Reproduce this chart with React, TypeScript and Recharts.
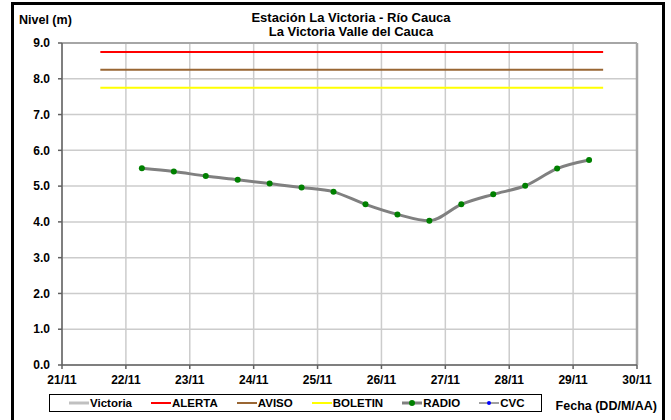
import { LineChart, Line, XAxis, YAxis, CartesianGrid, ReferenceLine } from 'recharts'

// Eje X en días desde el 21/11 (0 = 21/11, 9 = 30/11)
const DAY_TICKS = [0, 1, 2, 3, 4, 5, 6, 7, 8, 9]
const DAY_LABELS = ['21/11', '22/11', '23/11', '24/11', '25/11', '26/11', '27/11', '28/11', '29/11', '30/11']
const LEVEL_TICKS = [0, 1, 2, 3, 4, 5, 6, 7, 8, 9]

// Lecturas RADIO (cada 12 horas)
const RADIO_DAYS = [1.25, 1.75, 2.25, 2.75, 3.25, 3.75, 4.25, 4.75, 5.25, 5.75, 6.25, 6.75, 7.25, 7.75, 8.25]
const RADIO_LEVELS = [5.5, 5.41, 5.28, 5.18, 5.07, 4.96, 4.84, 4.49, 4.21, 4.03, 4.49, 4.77, 5.01, 5.49, 5.73]

// Umbrales
const THRESHOLD_DAYS = [0.6, 8.47]
const ALERTA = 8.75
const AVISO = 8.25
const BOLETIN = 7.75

const FONT = '"Liberation Sans", Arial, sans-serif'

const radioData = RADIO_DAYS.map((x, i) => ({ x, y: RADIO_LEVELS[i] }))
const flat = (level: number) => THRESHOLD_DAYS.map((x) => ({ x, y: level }))

const LEGEND = [
  { name: 'Victoria', colour: '#c0c0c0', width: 3, dot: null },
  { name: 'ALERTA', colour: '#ff0000', width: 2, dot: null },
  { name: 'AVISO', colour: '#996633', width: 2, dot: null },
  { name: 'BOLETIN', colour: '#ffff00', width: 2, dot: null },
  { name: 'RADIO', colour: '#808080', width: 3, dot: '#008000' },
  { name: 'CVC', colour: '#a0a0a0', width: 2, dot: '#0000ff' },
]

function LegendBox() {
  return (
    <div
      style={{
        position: 'absolute',
        left: 49,
        top: 394,
        width: 493,
        height: 18,
        boxSizing: 'border-box',
        border: '1px solid #000',
        display: 'flex',
        alignItems: 'center',
        paddingLeft: 19,
        gap: 19,
        fontFamily: FONT,
        fontWeight: 'bold',
        fontSize: 11.5,
        background: '#fff',
      }}
    >
      {LEGEND.map((l) => (
        <div key={l.name} style={{ display: 'flex', alignItems: 'center' }}>
          <svg width={20} height={8} style={{ marginRight: 1 }}>
            <line x1={0} x2={20} y1={4} y2={4} stroke={l.colour} strokeWidth={l.width} />
            {l.dot && <circle cx={10} cy={4} r={l.name === 'CVC' ? 2 : 3} fill={l.dot} />}
          </svg>
          <span>{l.name}</span>
        </div>
      ))}
    </div>
  )
}

export default function App() {
  const tickStyle = { fontFamily: FONT, fontWeight: 'bold', fontSize: 12, fill: '#000' }
  return (
    <div style={{ position: 'absolute', left: 0, top: 0, width: 671, height: 420, background: '#fff', overflow: 'hidden' }}>
      <div
        style={{
          position: 'absolute',
          left: 11,
          top: 2,
          width: 654,
          height: 418,
          boxSizing: 'border-box',
          border: '3px solid #000',
          borderBottom: 'none',
        }}
      />
      <div style={{ position: 'absolute', left: 0, top: 0 }}>
        <LineChart width={671} height={420} margin={{ top: 43, right: 34, left: 0, bottom: 0 }}>
          <CartesianGrid stroke="#cccccc" strokeWidth={1.5} />
          <XAxis
            type="number"
            dataKey="x"
            domain={[0, 9]}
            ticks={DAY_TICKS}
            interval={0}
            height={55}
            tickFormatter={(v: number) => DAY_LABELS[v]}
            tick={tickStyle}
            tickSize={4}
            tickMargin={6}
            stroke="#606060"
            strokeWidth={1.5}
            allowDuplicatedCategory={false}
          />
          <YAxis
            type="number"
            domain={[0, 9]}
            ticks={LEVEL_TICKS}
            interval={0}
            width={62}
            tickFormatter={(v: number) => v.toFixed(1)}
            tick={tickStyle}
            tickSize={4}
            tickMargin={8}
            stroke="#606060"
            strokeWidth={1.5}
          />
          <ReferenceLine y={9} stroke="#a6a6a6" strokeWidth={2} />
          <ReferenceLine x={9} stroke="#a6a6a6" strokeWidth={2.5} />
          <Line data={flat(ALERTA)} dataKey="y" stroke="#ff0000" strokeWidth={2} dot={false} isAnimationActive={false} />
          <Line data={flat(AVISO)} dataKey="y" stroke="#996633" strokeWidth={2} dot={false} isAnimationActive={false} />
          <Line data={flat(BOLETIN)} dataKey="y" stroke="#ffff00" strokeWidth={2} dot={false} isAnimationActive={false} />
          <Line
            data={radioData}
            dataKey="y"
            type="monotone"
            stroke="#808080"
            strokeWidth={3}
            dot={{ r: 3, fill: '#008000', stroke: '#008000', strokeWidth: 0 }}
            isAnimationActive={false}
          />
        </LineChart>
      </div>
      <svg width={671} height={420} style={{ position: 'absolute', left: 0, top: 0, pointerEvents: 'none' }}>
        <g fontFamily={FONT} fontWeight="bold" fill="#000">
          <text x={351} y={21.5} fontSize={13} textAnchor="middle">Estación La Victoria - Río Cauca</text>
          <text x={351} y={35.5} fontSize={13} textAnchor="middle">La Victoria Valle del Cauca</text>
          <text x={19} y={24} fontSize={12.5}>Nivel (m)</text>
          <text x={657} y={409.5} fontSize={12.5} textAnchor="end">Fecha (DD/M/AA)</text>
        </g>
      </svg>
      <LegendBox />
    </div>
  )
}
